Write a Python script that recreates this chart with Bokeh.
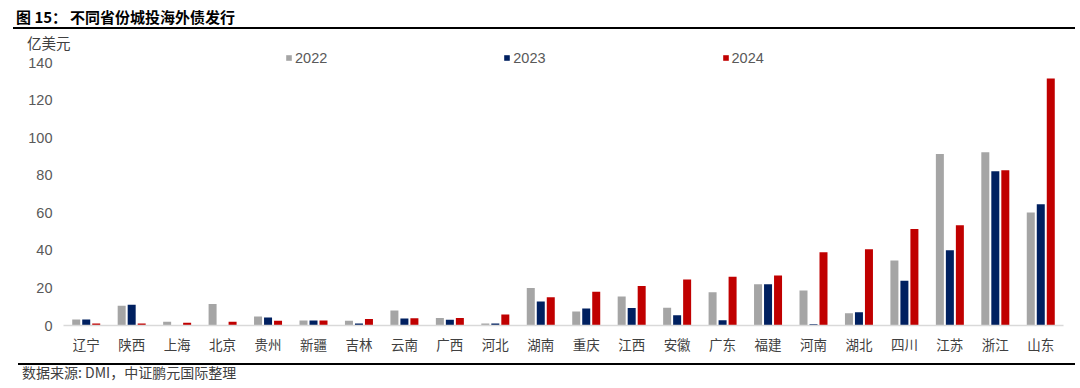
from bokeh.plotting import figure
from bokeh.models import (ColumnDataSource, FactorRange, Range1d, FixedTicker, Legend,
                          LegendItem, Div)
from bokeh.layouts import column
from bokeh.transform import dodge
from bokeh.embed import file_html
from bokeh.resources import INLINE

provinces = ["辽宁", "陕西", "上海", "北京", "贵州", "新疆", "吉林", "云南", "广西", "河北", "湖南",
             "重庆", "江西", "安徽", "广东", "福建", "河南", "湖北", "四川", "江苏", "浙江", "山东"]
v2022 = [3.2, 10.5, 2.0, 11.5, 4.8, 2.7, 2.5, 8.0, 4.0, 1.0, 20.0,
         7.5, 15.5, 9.5, 17.7, 22.0, 18.6, 6.5, 34.6, 91.5, 92.4, 60.3]
v2023 = [3.2, 11.0, 0.0, 0.0, 4.3, 2.7, 1.0, 3.7, 3.0, 1.0, 12.8,
         9.0, 9.3, 5.5, 2.8, 22.0, 0.7, 7.0, 23.9, 40.1, 82.3, 64.6]
v2024 = [1.0, 1.0, 1.5, 2.0, 2.5, 2.7, 3.5, 3.8, 4.0, 5.8, 15.0,
         18.0, 21.0, 24.5, 26.0, 26.7, 39.0, 40.7, 51.4, 53.5, 82.8, 131.7]
years = ["2022", "2023", "2024"]
colors = ["#A5A5A5", "#002060", "#C00000"]
y_ticks = [0, 20, 40, 60, 80, 100, 120, 140]

title_num = "图 15："
title_txt = "不同省份城投海外债发行"
unit_txt = "亿美元"
source_txt = "数据来源: DMI，中证鹏元国际整理"

src = ColumnDataSource(dict(cat=provinces, y2022=v2022, y2023=v2023, y2024=v2024))

CJK = "Noto Sans CJK SC"
NUM = "Liberation Sans"

p = figure(x_range=FactorRange(*provinces, range_padding=0), y_range=Range1d(0, 146.13),
           width=1080, height=312, output_backend="svg", toolbar_location=None,
           min_border_left=63, min_border_right=17, min_border_top=0, min_border_bottom=38,
           margin=0)

offsets = [-0.22, 0.0, 0.22]
renderers = []
for yr, c, off in zip(years, colors, offsets):
    r = p.vbar(x=dodge("cat", off, range=p.x_range), top="y" + yr, width=0.176, source=src,
               fill_color=c, line_color=None)
    renderers.append(r)

legend = Legend(items=[LegendItem(label=yr, renderers=[r]) for yr, r in zip(years, renderers)],
                orientation="horizontal", location=(222, 259), spacing=176,
                glyph_width=7, glyph_height=7, label_standoff=3, label_height=17,
                label_text_font=NUM, label_text_font_size="14.5px", label_text_color="#595959",
                padding=0, margin=0, border_line_color=None, background_fill_alpha=0)
p.add_layout(legend, "center")

p.outline_line_color = None
p.xgrid.grid_line_color = None
p.ygrid.grid_line_color = None
p.background_fill_color = "white"
p.border_fill_color = "white"

p.xaxis.axis_line_color = "#D9D9D9"
p.xaxis.axis_line_width = 1.5
p.xaxis.major_tick_line_color = None
p.xaxis.major_tick_out = 0
p.xaxis.minor_tick_line_color = None
p.xaxis.major_label_text_font = CJK
p.xaxis.major_label_text_font_size = "13.5px"
p.xaxis.major_label_text_color = "#404040"
p.xaxis.major_label_standoff = 8

p.yaxis.ticker = FixedTicker(ticks=y_ticks)
p.yaxis.axis_line_color = None
p.yaxis.major_tick_line_color = None
p.yaxis.major_tick_out = 0
p.yaxis.minor_tick_line_color = None
p.yaxis.major_label_text_font = NUM
p.yaxis.major_label_text_font_size = "14.5px"
p.yaxis.major_label_text_color = "#595959"
p.yaxis.major_label_standoff = 11

top_html = f"""
<div style="position:relative;width:1080px;height:51px;font-family:'{CJK}';">
  <div style="position:absolute;left:16px;top:9px;font-size:15px;line-height:16px;font-weight:bold;color:#000;white-space:nowrap;">{title_num}</div>
  <div style="position:absolute;left:70px;top:9px;font-size:15px;line-height:16px;font-weight:bold;color:#000;white-space:nowrap;">{title_txt}</div>
  <div style="position:absolute;left:13px;top:27px;width:1062px;height:1.6px;background:#000;"></div>
  <div style="position:absolute;left:27px;top:35px;font-size:14.5px;line-height:15px;color:#404040;white-space:nowrap;">{unit_txt}</div>
</div>
"""
bottom_html = f"""
<div style="position:relative;width:1080px;height:25px;font-family:'{CJK}';">
  <div style="position:absolute;left:18px;top:0px;width:1057px;height:1.6px;background:#000;"></div>
  <div style="position:absolute;left:22px;top:1px;font-size:14px;line-height:16px;color:#404040;white-space:nowrap;">{source_txt}</div>
</div>
"""
top_div = Div(text=top_html, width=1080, height=51, margin=0)
bottom_div = Div(text=bottom_html, width=1080, height=25, margin=0)

layout = column(top_div, p, bottom_div, spacing=0, margin=0)

open("out.html", "w").write(file_html(layout, INLINE))
